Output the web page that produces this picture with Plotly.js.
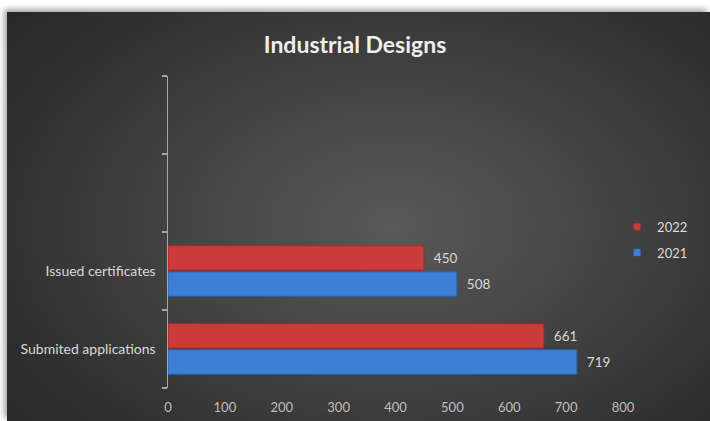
<!DOCTYPE html>
<html>
<head>
<meta charset="utf-8">
<script src="https://cdn.plot.ly/plotly-3.0.1.min.js"></script>
<style>
  html, body { margin:0; padding:0; background:#ffffff; width:710px; height:421px; overflow:hidden; }
  #panel { position:absolute; left:7px; top:12px; width:703px; height:409px;
    background: radial-gradient(ellipse 75% 85% at 55% 52%, #595959 0%, #444444 40%, #2e2e2e 80%, #262626 100%);
    box-shadow: -3px -3px 6px rgba(0,0,0,0.35); }
  #chart { position:absolute; left:0; top:0; width:710px; height:421px; }
</style>
</head>
<body>
<div id="panel"></div>
<div id="chart"></div>
<script>
const categories = ["Submited applications", "Issued certificates", " ", "  "];
const values2021 = [719, 508];
const values2022 = [661, 450];
const seriesNames = ["2021", "2022"];
const seriesColors = ["#3d7fd6", "#cc3b3b"];
const seriesEdges = ["#2a5ea8", "#9e2a2a"];
const xTicks = [0, 100, 200, 300, 400, 500, 600, 700, 800];

const FONT = "Lato, 'Open Sans', sans-serif";
const labelFont = { family: FONT, size: 13.5, color: "#d9d9d9" };
const seriesValues = [values2021, values2022];

const traces = [];
seriesValues.forEach((vals, i) => {
  traces.push({
    type: "bar", orientation: "h", name: seriesNames[i], showlegend: false,
    y: categories.slice(0, 2), x: vals,
    marker: { color: seriesColors[i], line: { color: seriesEdges[i], width: 1 } },
    text: vals.map(v => "  " + v), textposition: "outside", cliponaxis: false,
    textfont: labelFont, hoverinfo: "x+name"
  });
});
// legend-only entries with small square markers (2022 listed first, as in the reference)
[1, 0].forEach(i => {
  traces.push({
    type: "scatter", mode: "markers", name: seriesNames[i], legendgroup: "g" + i,
    x: [null], y: [null],
    marker: { symbol: "square", size: 7, color: seriesColors[i], line: { color: seriesEdges[i], width: 0.5 } },
    hoverinfo: "skip"
  });
});

const layout = {
  width: 710, height: 421,
  paper_bgcolor: "rgba(0,0,0,0)", plot_bgcolor: "rgba(0,0,0,0)",
  margin: { l: 168, r: 87, t: 76, b: 33, pad: 0, autoexpand: false },
  title: { text: "<b>Industrial Designs</b>", x: 0.5, xanchor: "center", y: 0.893, yanchor: "middle",
    font: { family: FONT, size: 23, color: "#eeeeee" } },
  barmode: "group", bargap: 0.33, bargroupgap: 0.06,
  showlegend: true,
  legend: { x: 0.987, xanchor: "left", y: 0.565, yanchor: "top", traceorder: "grouped",
    tracegroupgap: 6, itemwidth: 30,
    font: { family: FONT, size: 13, color: "#d9d9d9" },
    bgcolor: "rgba(0,0,0,0)" },
  xaxis: { range: [0, 800], tickvals: xTicks, ticktext: xTicks.map(String), showgrid: false, zeroline: false,
    showline: false, ticks: "", ticklabelstandoff: 10,
    tickfont: { family: FONT, size: 13, color: "#bfbfbf" }, fixedrange: true },
  yaxis: { type: "category", categoryorder: "array", categoryarray: categories, range: [-0.5, 3.5],
    showline: true, linecolor: "#a6a6a6", linewidth: 1.5, ticks: "outside", tickson: "boundaries",
    ticklen: 5, tickcolor: "#a6a6a6", tickwidth: 1.5, showgrid: false, zeroline: false,
    ticklabelstandoff: 8,
    tickfont: { family: FONT, size: 14, color: "#d9d9d9" }, fixedrange: true }
};

Plotly.newPlot("chart", traces, layout, { displayModeBar: false, staticPlot: true });
</script>
</body>
</html>
